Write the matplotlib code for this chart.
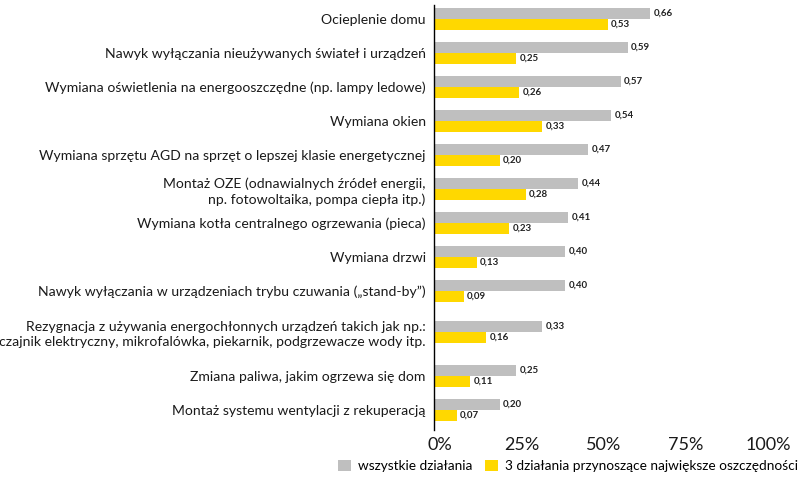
import matplotlib
matplotlib.use("Agg")
import matplotlib.pyplot as plt
import matplotlib.transforms as mtransforms
from matplotlib.patches import Patch

categories = [
    "Ocieplenie domu",
    "Nawyk wyłączania nieużywanych świateł i urządzeń",
    "Wymiana oświetlenia na energooszczędne (np. lampy ledowe)",
    "Wymiana okien",
    "Wymiana sprzętu AGD na sprzęt o lepszej klasie energetycznej",
    "Montaż OZE (odnawialnych źródeł energii,\nnp. fotowoltaika, pompa ciepła itp.)",
    "Wymiana kotła centralnego ogrzewania (pieca)",
    "Wymiana drzwi",
    "Nawyk wyłączania w urządzeniach trybu czuwania („stand-by”)",
    "Rezygnacja z używania energochłonnych urządzeń takich jak np.:\nczajnik elektryczny, mikrofalówka, piekarnik, podgrzewacze wody itp.",
    "Zmiana paliwa, jakim ogrzewa się dom",
    "Montaż systemu wentylacji z rekuperacją",
]
all_actions = [0.66, 0.59, 0.57, 0.54, 0.47, 0.44, 0.41, 0.40, 0.40, 0.33, 0.25, 0.20]
top3 = [0.53, 0.25, 0.26, 0.33, 0.20, 0.28, 0.23, 0.13, 0.09, 0.16, 0.11, 0.07]
xticks = [0, 0.25, 0.5, 0.75, 1.0]
xtick_labels = ["0%", "25%", "50%", "75%", "100%"]
legend_labels = ["wszystkie działania", "3 działania przynoszące największe oszczędności"]

positions = [0, 1, 2, 3, 4, 5, 6, 7, 8, 9.2, 10.5, 11.5]

GRAY = "#BFBFBF"
YELLOW = "#FFD800"

plt.rcParams["font.family"] = ["Lato", "DejaVu Sans"]

fig = plt.figure(figsize=(8, 4.82), dpi=100)
ax = fig.add_axes([0.5425, 1 - 430 / 482, 0.9525 - 0.5425, (430 - 5) / 482])

h = 0.33
ax.barh([p - h / 2 for p in positions], all_actions, height=h, color=GRAY)
ax.barh([p + h / 2 for p in positions], top3, height=h, color=YELLOW)

for p, v in zip(positions, all_actions):
    ax.text(v + 0.01, p - h / 2, f"{v:.2f}".replace(".", ","), va="center", ha="left",
            fontsize=7, fontweight="bold", color="#222222")
for p, v in zip(positions, top3):
    ax.text(v + 0.01, p + h / 2, f"{v:.2f}".replace(".", ","), va="center", ha="left",
            fontsize=7, fontweight="bold", color="#222222")

ax.set_ylim(12.09, -0.41)
ax.set_xlim(0, 1)
ax.set_yticks(positions)
ax.set_yticklabels(categories, fontsize=10.1, color="#1a1a1a", linespacing=1.3)
ax.set_xticks(xticks)
ax.set_xticklabels(xtick_labels, fontsize=13, color="#1a1a1a")
ax.tick_params(axis="y", length=0, pad=6)
ax.tick_params(axis="x", length=0, pad=5)
offset = mtransforms.ScaledTranslation(6 / 100, 0, fig.dpi_scale_trans)
for tick in ax.xaxis.get_major_ticks():
    tick.label1.set_transform(tick.label1.get_transform() + offset)
for s in ["top", "right", "bottom"]:
    ax.spines[s].set_visible(False)
ax.spines["left"].set_color("black")
ax.spines["left"].set_linewidth(1.0)

handles = [Patch(facecolor=GRAY, edgecolor="none"), Patch(facecolor=YELLOW, edgecolor="none")]
fig.legend(handles, legend_labels, loc="center", bbox_to_anchor=(568 / 800, 1 - 466 / 482),
           ncol=2, frameon=False, fontsize=9.8, handlelength=0.9, handleheight=0.9,
           handletextpad=0.5, columnspacing=1.0, borderaxespad=0)

fig.savefig("out.png", dpi=100)
